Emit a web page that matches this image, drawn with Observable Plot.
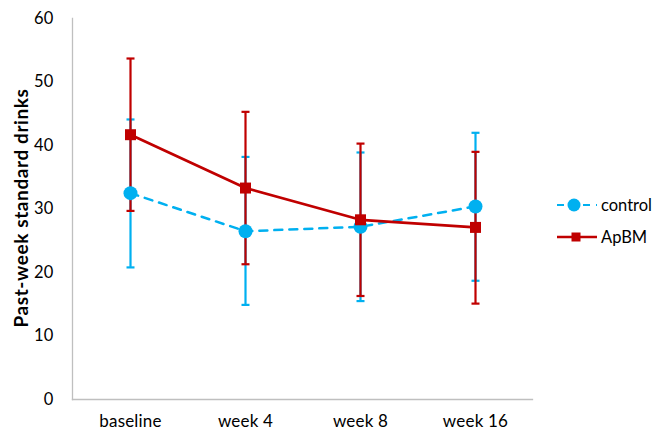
<!DOCTYPE html>
<html>
<head>
<meta charset="utf-8">
<script src="https://cdn.jsdelivr.net/npm/d3@7"></script>
<script src="https://cdn.jsdelivr.net/npm/@observablehq/plot@0.6"></script>
<style>
  html, body { margin: 0; padding: 0; background: #fff; }
  #wrap { position: relative; width: 656px; height: 433px; font-family: Lato, "Open Sans", sans-serif; }
  #ylab { position: absolute; left: 20px; top: 208px; transform: translate(-50%, -50%) rotate(-90deg); white-space: nowrap; font-weight: bold; font-size: 19px; letter-spacing: 0.6px; color: #000; }
  .leg { position: absolute; left: 556px; display: flex; align-items: center; font-size: 16.5px; color: #000; }
  .leg svg { margin-right: 3px; }
</style>
</head>
<body>
<div id="wrap">
  <div id="chart"></div>
  <div id="ylab">Past-week standard drinks</div>
  <div class="leg" style="top:194px">
    <svg width="42" height="22"><line x1="1" y1="11" x2="41" y2="11" stroke="#00B0F0" stroke-width="2.2" stroke-dasharray="7,6"/><circle cx="18" cy="11" r="6.5" fill="#00B0F0"/></svg>control
  </div>
  <div class="leg" style="top:226px">
    <svg width="42" height="22"><line x1="1" y1="11" x2="41" y2="11" stroke="#C00000" stroke-width="2.5"/><rect x="15.5" y="6.5" width="9" height="9" fill="#C00000"/></svg>ApBM
  </div>
</div>
<script>
const categories = ["baseline", "week 4", "week 8", "week 16"];
const controlMean = [32.5, 26.5, 27.2, 30.4];
const controlLow  = [20.8, 14.9, 15.5, 18.7];
const controlHigh = [44.1, 38.2, 38.9, 42.0];
const apbmMean = [41.7, 33.3, 28.3, 27.1];
const apbmLow  = [29.7, 21.3, 16.3, 15.1];
const apbmHigh = [53.7, 45.3, 40.3, 39.0];
const yTicks = [0, 10, 20, 30, 40, 50, 60];

const control = categories.map((c, i) => ({cat: c, mean: controlMean[i], lo: controlLow[i], hi: controlHigh[i]}));
const apbm = categories.map((c, i) => ({cat: c, mean: apbmMean[i], lo: apbmLow[i], hi: apbmHigh[i]}));

const capSymbol = { draw(ctx, size) { const w = Math.sqrt(size / Math.PI); ctx.moveTo(-w, 0); ctx.lineTo(w, 0); } };
const CY = "#00B0F0", RD = "#C00000";

const chart = Plot.plot({
  width: 656,
  height: 433,
  marginLeft: 72,
  marginRight: 124,
  marginTop: 18,
  marginBottom: 34,
  style: { fontFamily: "Lato, 'Open Sans', sans-serif", fontSize: "17px", color: "#000", background: "transparent", letterSpacing: "0.2px" },
  x: { type: "point", domain: categories, padding: 0.5 },
  y: { domain: [0, 60] },
  marks: [
    Plot.axisX({ tickSize: 0, tickPadding: 15, label: null, fontSize: 17 }),
    Plot.axisY({ ticks: yTicks, tickSize: 0, tickPadding: 19, label: null, fontSize: 16.5 }),
    Plot.frame({ anchor: "left", stroke: "#BFBFBF", strokeWidth: 1.3 }),
    Plot.frame({ anchor: "bottom", stroke: "#BFBFBF", strokeWidth: 1.3 }),
    // error bars
    Plot.ruleX(control, { x: "cat", y1: "lo", y2: "hi", stroke: CY, strokeWidth: 2.2 }),
    Plot.dot(control, { x: "cat", y: "lo", symbol: capSymbol, r: 4, stroke: CY, strokeWidth: 2.2, fill: "none" }),
    Plot.dot(control, { x: "cat", y: "hi", symbol: capSymbol, r: 4, stroke: CY, strokeWidth: 2.2, fill: "none" }),
    Plot.ruleX(apbm, { x: "cat", y1: "lo", y2: "hi", stroke: RD, strokeWidth: 2.2 }),
    Plot.dot(apbm, { x: "cat", y: "lo", symbol: capSymbol, r: 4, stroke: RD, strokeWidth: 2.2, fill: "none" }),
    Plot.dot(apbm, { x: "cat", y: "hi", symbol: capSymbol, r: 4, stroke: RD, strokeWidth: 2.2, fill: "none" }),
    // lines
    Plot.line(control, { x: "cat", y: "mean", stroke: CY, strokeWidth: 2.5, strokeDasharray: "8,7" }),
    Plot.line(apbm, { x: "cat", y: "mean", stroke: RD, strokeWidth: 2.7 }),
    // markers
    Plot.dot(control, { x: "cat", y: "mean", r: 7, fill: CY, stroke: "none" }),
    Plot.dot(apbm, { x: "cat", y: "mean", symbol: "square", r: 6.2, fill: RD, stroke: "none" })
  ]
});
document.getElementById("chart").appendChild(chart);
</script>
</body>
</html>
